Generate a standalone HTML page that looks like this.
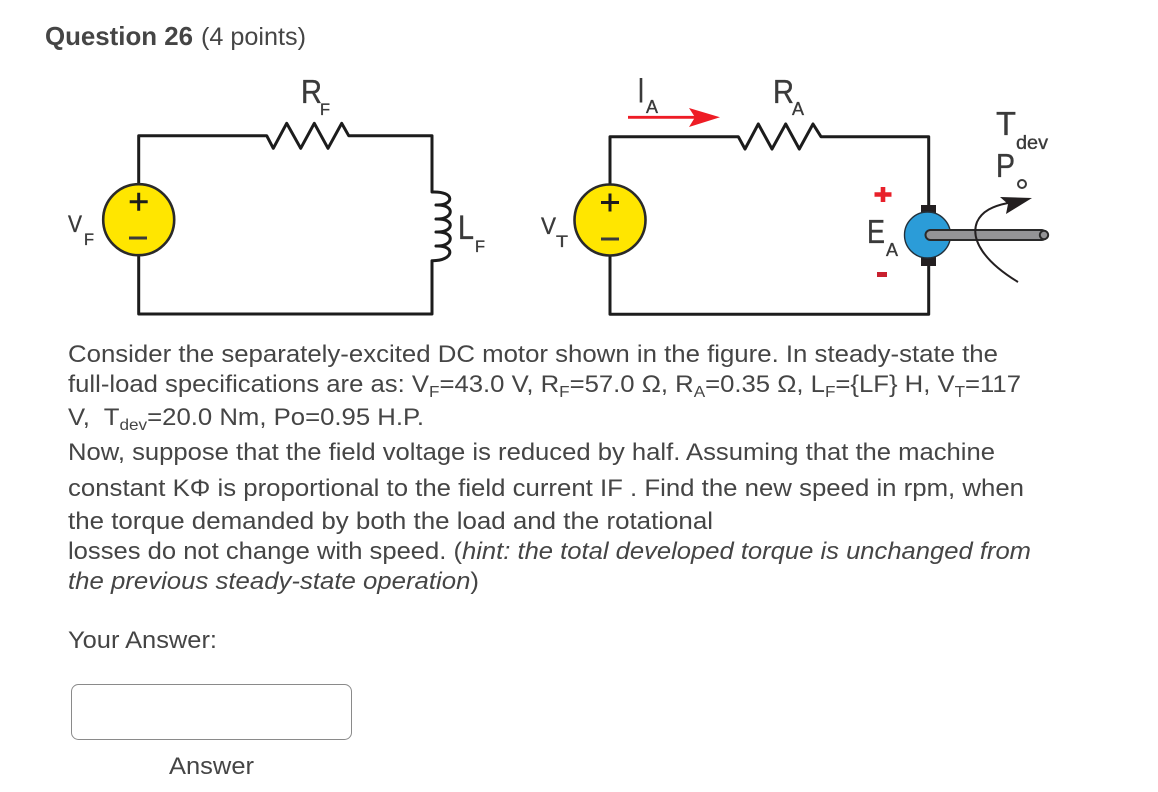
<!DOCTYPE html>
<html lang="en">
<head>
<meta charset="utf-8">
<title>Question 26</title>
<style>
html,body{margin:0;padding:0;background:#fff;width:1158px;height:792px;overflow:hidden}
svg{display:block}
text{font-family:"Liberation Sans",sans-serif;fill:#454545}
.b{font-size:24px}
.d{fill:#3a3a3a;stroke:#3a3a3a;stroke-width:.35}
.w{fill:none;stroke:#1c1c1c;stroke-width:3;stroke-linejoin:round}
</style>
</head>
<body>
<svg width="1158" height="792" viewBox="0 0 1158 792" xmlns="http://www.w3.org/2000/svg">
<text x="45" y="45" font-size="26" font-weight="bold" textLength="148" lengthAdjust="spacingAndGlyphs">Question 26</text>
<text x="201" y="45" font-size="25" textLength="105" lengthAdjust="spacingAndGlyphs">(4 points)</text>

<!-- left circuit -->
<path class="w" d="M138.7 184V135.7H266.7L273.3 148.3L286.7 123.3L300.7 148.3L314.3 123.3L328 148.3L341.7 123.3L348.7 135.7H432V192C456 191 454 206 436 205C456 204 454 220 436 219C456 218 454 233 436 232C456 231 454 247 436 246C456 245 454 261 432 260.7V314H138.7V256"/>
<circle cx="138.7" cy="219.7" r="35.5" fill="#ffe600" stroke="#2a2a2a" stroke-width="2.6"/>
<path d="M129.7 201.7H147.7M138.7 192.7V210.7" stroke="#1c1c1c" stroke-width="3"/>
<path d="M129 238H147" stroke="#3a3a3a" stroke-width="3"/>
<text class="d" x="301" y="103" font-size="33" textLength="21" lengthAdjust="spacingAndGlyphs">R</text>
<text class="d" x="320" y="115" font-size="17" textLength="10" lengthAdjust="spacingAndGlyphs">F</text>
<text class="d" x="68" y="232" font-size="24" textLength="14" lengthAdjust="spacingAndGlyphs">V</text>
<text class="d" x="84" y="245" font-size="17" textLength="10" lengthAdjust="spacingAndGlyphs">F</text>
<text class="d" x="458" y="239" font-size="34" textLength="16" lengthAdjust="spacingAndGlyphs">L</text>
<text class="d" x="475" y="252" font-size="17" textLength="10" lengthAdjust="spacingAndGlyphs">F</text>

<!-- right circuit -->
<path class="w" d="M610 184V136.7H738.3L745 149L758.3 124L772 149L785.7 124L799.3 149L813 124L821 136.7H928.7V206M928.7 265V314.3H610V256"/>
<circle cx="610" cy="220" r="35.5" fill="#ffe600" stroke="#2a2a2a" stroke-width="2.6"/>
<path d="M601 202.5H619M610 193.5V211.5" stroke="#1c1c1c" stroke-width="3"/>
<path d="M601 239H619" stroke="#3a3a3a" stroke-width="3"/>
<path d="M628 117.3H695" stroke="#ee1c25" stroke-width="2.8"/>
<path d="M720 117.3L689 108L695 117.3L689 127Z" fill="#ee1c25"/>
<text class="d" x="638" y="102" font-size="34" textLength="6" lengthAdjust="spacingAndGlyphs" style="stroke-width:.9">I</text>
<text class="d" x="646" y="113" font-size="18" textLength="12" lengthAdjust="spacingAndGlyphs">A</text>
<text class="d" x="773" y="103" font-size="33" textLength="21" lengthAdjust="spacingAndGlyphs">R</text>
<text class="d" x="792" y="115" font-size="18" textLength="12" lengthAdjust="spacingAndGlyphs">A</text>
<text class="d" x="541" y="234" font-size="24" textLength="15" lengthAdjust="spacingAndGlyphs">V</text>
<text class="d" x="556" y="247" font-size="17" textLength="12" lengthAdjust="spacingAndGlyphs">T</text>

<!-- motor -->
<rect x="921" y="205" width="15" height="10" fill="#231f20"/>
<rect x="921" y="257" width="15" height="9" fill="#231f20"/>
<circle cx="927.5" cy="235" r="23" fill="#2b9cd8" stroke="#23303a" stroke-width="1.4"/>
<rect x="925.5" y="230" width="121" height="10" rx="5" fill="#949496" stroke="#2a2a2a" stroke-width="2"/>
<circle cx="1044" cy="235" r="4.2" fill="#949496" stroke="#2a2a2a" stroke-width="2"/>
<path d="M1018 282C985 262 970 240 977 222C982 211 993 206 1008 203" fill="none" stroke="#231f20" stroke-width="2"/>
<path d="M1032 198L1000 197L1008 204L1006 214Z" fill="#231f20"/>
<path d="M874.500 194.500H891.500M883 187V202" stroke="#e8202a" stroke-width="4.6"/>
<rect x="877" y="272" width="10" height="5" fill="#c8202e"/>
<text class="d" x="867" y="243" font-size="33" textLength="18" lengthAdjust="spacingAndGlyphs">E</text>
<text class="d" x="886" y="256" font-size="18" textLength="12" lengthAdjust="spacingAndGlyphs">A</text>
<text class="d" x="996" y="135" font-size="33" textLength="20" lengthAdjust="spacingAndGlyphs">T</text>
<text class="d" x="1016" y="149" font-size="19" textLength="32" lengthAdjust="spacingAndGlyphs">dev</text>
<text class="d" x="996" y="177" font-size="33" textLength="19" lengthAdjust="spacingAndGlyphs">P</text>
<circle cx="1022" cy="184" r="4" fill="none" stroke="#3a3a3a" stroke-width="2"/>

<!-- body text -->
<text class="b" x="68" y="362" textLength="930" lengthAdjust="spacingAndGlyphs">Consider the separately-excited DC motor shown in the figure. In steady-state the</text>
<text class="b" x="68" y="392" textLength="953" lengthAdjust="spacingAndGlyphs">full-load specifications are as: V<tspan font-size="16" dy="5">F</tspan><tspan dy="-5">=43.0 V, R</tspan><tspan font-size="16" dy="5">F</tspan><tspan dy="-5">=57.0 Ω, R</tspan><tspan font-size="16" dy="5">A</tspan><tspan dy="-5">=0.35 Ω, L</tspan><tspan font-size="16" dy="5">F</tspan><tspan dy="-5">={LF} H, V</tspan><tspan font-size="16" dy="5">T</tspan><tspan dy="-5">=117</tspan></text>
<text class="b" x="68" y="425" textLength="356" lengthAdjust="spacingAndGlyphs">V,&#160; T<tspan font-size="16" dy="5">dev</tspan><tspan dy="-5">=20.0 Nm, Po=0.95 H.P.</tspan></text>
<text class="b" x="68" y="460" textLength="927" lengthAdjust="spacingAndGlyphs">Now, suppose that the field voltage is reduced by half. Assuming that the machine</text>
<text class="b" x="68" y="496" textLength="956" lengthAdjust="spacingAndGlyphs">constant KΦ is proportional to the field current IF . Find the new speed in rpm, when</text>
<text class="b" x="68" y="529" textLength="645" lengthAdjust="spacingAndGlyphs">the torque demanded by both the load and the rotational</text>
<text class="b" x="68" y="559" textLength="963" lengthAdjust="spacingAndGlyphs">losses do not change with speed. (<tspan font-style="italic">hint: the total developed torque is unchanged from</tspan></text>
<text class="b" x="68" y="589" textLength="411" lengthAdjust="spacingAndGlyphs"><tspan font-style="italic">the previous steady-state operation</tspan>)</text>
<text class="b" x="68" y="648" textLength="149" lengthAdjust="spacingAndGlyphs">Your Answer:</text>

<rect x="71.500" y="684.500" width="280" height="55" rx="7" fill="#fff" stroke="#8a8a8a" stroke-width="1"/>
<text class="b" x="169" y="774" textLength="85" lengthAdjust="spacingAndGlyphs">Answer</text>
</svg>
</body>
</html>
